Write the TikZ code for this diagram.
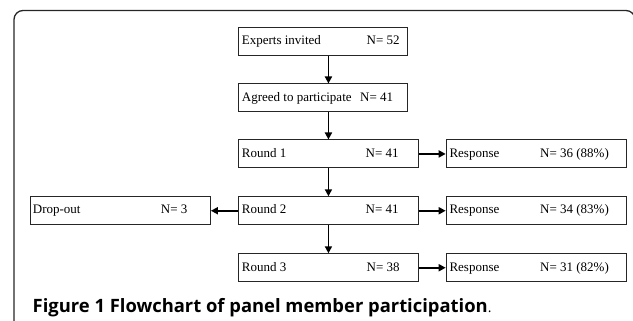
\documentclass[tikz,border=0pt]{standalone}
\usepackage{fontspec}
\setmainfont{Liberation Serif}
\newfontfamily\capfont{Open Sans}
\usetikzlibrary{arrows.meta}
\begin{document}
\begin{tikzpicture}[x=1pt,y=-1pt,
  box/.style={draw=black!85, line width=0.9pt, inner sep=0pt, anchor=north west, minimum height=28pt},
  lbl/.style={anchor=base west, inner sep=0pt, font=\fontsize{13}{14}\selectfont},
  arr/.style={line width=1.7pt, -{Triangle[length=7pt,width=7pt]}},
  frame/.style={draw=black!85, line width=1.3pt, rounded corners=9pt}]
\useasboundingbox (0,0) rectangle (633,321);
\draw[frame] (14,330) -- (14,10.5) -- (635,10.5) -- (635,330);
% boxes
\node[box, minimum width=169pt] (e) at (238,27.3) {};
\node[box, minimum width=169pt] (a) at (238,83.5) {};
\node[box, minimum width=180pt] (r1) at (238,139.5) {};
\node[box, minimum width=180pt] (r2) at (238,196.3) {};
\node[box, minimum width=180pt] (r3) at (238,253.3) {};
\node[box, minimum width=180pt] (s1) at (445.7,139.5) {};
\node[box, minimum width=180pt] (s2) at (445.7,196.3) {};
\node[box, minimum width=180pt] (s3) at (445.7,253.3) {};
\node[box, minimum width=180pt] (d) at (30,196.3) {};
% labels
\node[lbl] (et) at (241.7,45) {Experts invited};
\node[lbl] (en) at (366.5,45) {N= 52};
\node[lbl] (at) at (241.7,101.2) {Agreed to participate};
\node[lbl] (an) at (360,101.2) {N= 41};
\node[lbl] (r1t) at (241.7,157.2) {Round 1};
\node[lbl] (r1n) at (365.5,157.2) {N= 41};
\node[lbl] (r2t) at (241.7,214) {Round 2};
\node[lbl] (r2n) at (365.5,214) {N= 41};
\node[lbl] (r3t) at (241.7,271) {Round 3};
\node[lbl] (r3n) at (366.5,271) {N= 38};
\node[lbl] (s1t) at (449.3,157.2) {Response};
\node[lbl] (s1n) at (540,157.2) {N= 36 (88\%)};
\node[lbl] (s2t) at (449.3,214) {Response};
\node[lbl] (s2n) at (540,214) {N= 34 (83\%)};
\node[lbl] (s3t) at (449.3,271) {Response};
\node[lbl] (s3n) at (540,271) {N= 31 (82\%)};
\node[lbl] (dt) at (32.7,214) {Drop-out};
\node[lbl] (dn) at (160.7,214) {N= 3};
% connectors
\draw[arr] (e.south -| r1.north) -- (a.north -| r1.north);
\draw[arr] (a.south -| r1.north) -- (r1.north);
\draw[arr] (r1.south) -- (r2.north);
\draw[arr] (r2.south) -- (r3.north);
\draw[arr] (r1.east) -- (s1.west);
\draw[arr] (r2.east) -- (s2.west);
\draw[arr] (r3.east) -- (s3.west);
\draw[arr] (r2.west) -- (d.east);
% caption
\node[anchor=base west, inner sep=0pt] (cap) at (32.5,312.7) {\capfont\fontsize{18.4}{22}\selectfont\textbf{Figure 1 Flowchart of panel member participation}\fontsize{14}{16}\selectfont.};
\end{tikzpicture}
\end{document}
